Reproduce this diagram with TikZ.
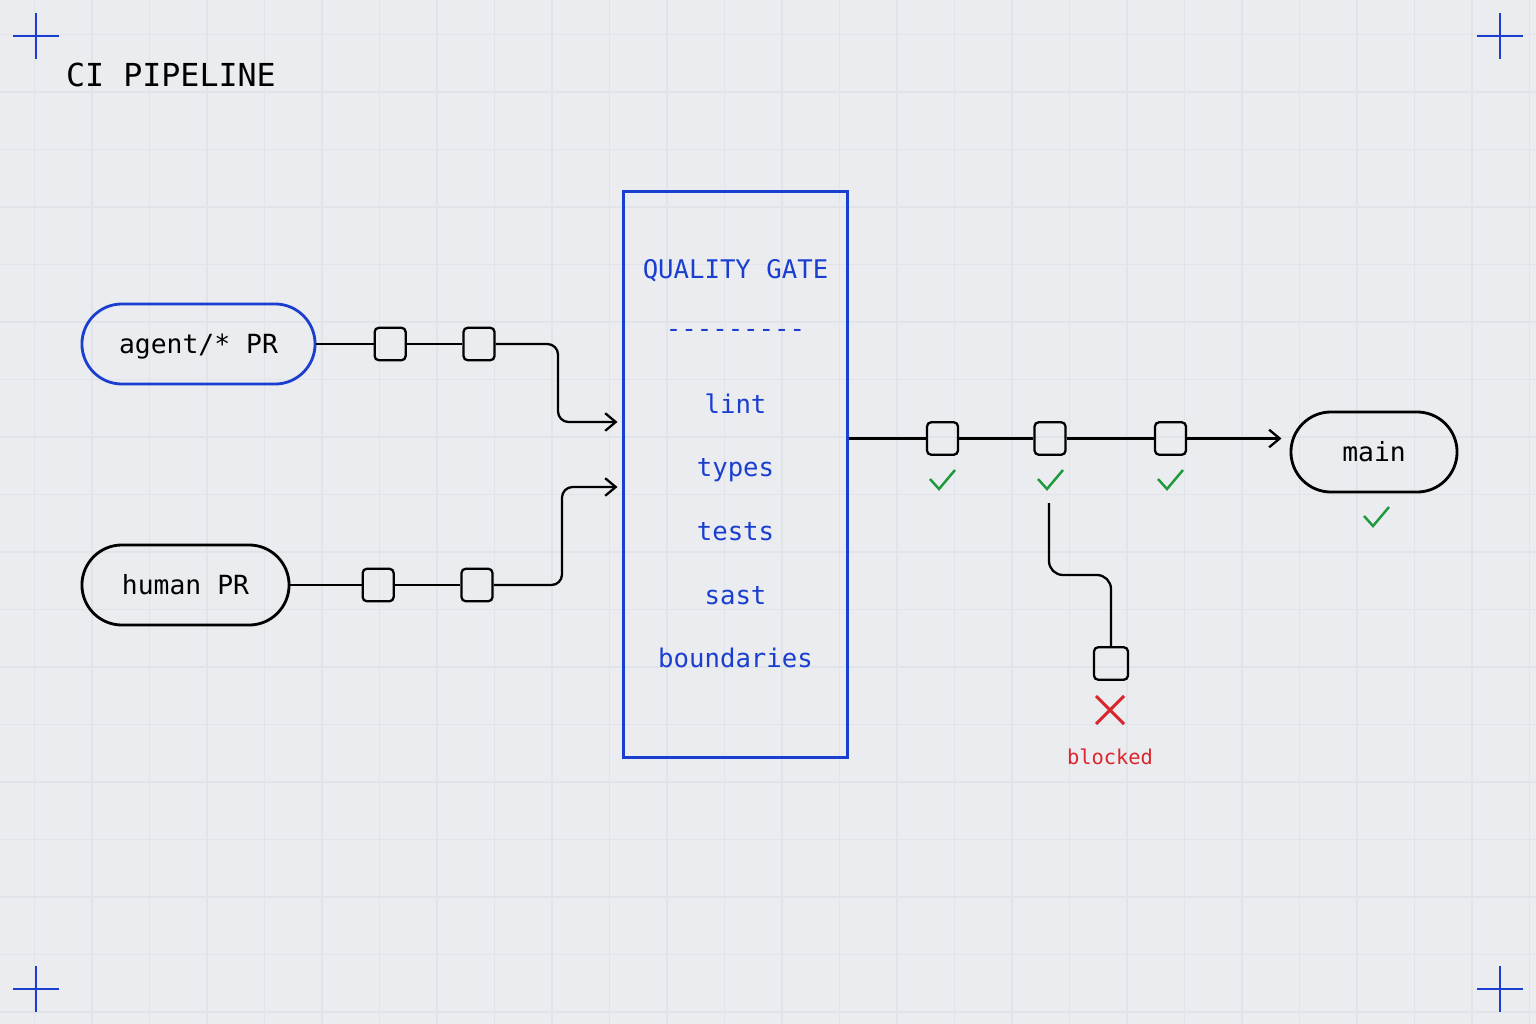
\documentclass[tikz,border=0pt]{standalone}
\usepackage{fontspec}
\setmonofont{DejaVu Sans Mono}
\usetikzlibrary{positioning, arrows.meta}

\definecolor{gateblue}{HTML}{1A3FD0}
\definecolor{passgreen}{HTML}{1E9A3C}
\definecolor{failred}{HTML}{D9252B}
\definecolor{paper}{HTML}{EAECF0}
\definecolor{gridgray}{HTML}{E0E3E8}

\tikzset{
  pass/.pic={\draw[passgreen, line width=0.7pt] (-12,-1) -- (-3,9) -- (13,-10);},
  fail/.pic={\draw[failred, line width=0.85pt] (-14,-14) -- (14,14) (-14,14) -- (14,-14);}
}

\begin{document}
\begin{tikzpicture}[x=0.01cm, y=-0.01cm, >={Straight Barb[length=3pt,width=5pt]}, line width=0.65pt,
    pill/.style={draw, rounded corners=0.4cm, minimum height=0.8cm, line width=0.8pt,
                 font=\ttfamily\fontsize{7.5}{9}\selectfont, text height=1.5ex, text depth=0.2ex},
    job/.style={draw, rounded corners=1.2pt, minimum width=0.31cm, minimum height=0.325cm, inner sep=0pt},
    gatetxt/.style={text=gateblue, font=\ttfamily\fontsize{7.3}{9}\selectfont, inner sep=0pt,
                    text height=1.6ex, text depth=0.3ex},
    wire/.style={rounded corners=3pt},
    gridline/.style={gridgray, line width=0.35pt},
    cornermark/.style={gateblue, line width=0.8pt}]

    % page and grid
    \fill[paper] (0,0) rectangle (1536,1024);
    \useasboundingbox (0,0) rectangle (1536,1024);
    \foreach \g in {0,...,26} \draw[gridline] (34.5+57.5*\g,0) -- (34.5+57.5*\g,1024);
    \foreach \g in {0,...,17} \draw[gridline] (0,34.5+57.5*\g) -- (1536,34.5+57.5*\g);
    \foreach \cx/\cy in {36/36, 1500/36, 36/989, 1500/989}
        \draw[cornermark] (\cx-23,\cy) -- (\cx+23,\cy) (\cx,\cy-23) -- (\cx,\cy+23);

    \node[anchor=west, inner sep=0pt, font=\ttfamily\fontsize{9}{11}\selectfont] (title) at (65,75) {CI PIPELINE};

    % sources
    \node[pill, draw=gateblue, minimum width=2.33cm] (agent) at (198.5,344) {agent/* PR};
    \node[job] (a1) [right=0.57cm of agent] {};
    \node[job] (a2) [right=0.555cm of a1] {};

    \node[pill, minimum width=2.07cm] (human) at (185.5,585) {human PR};
    \node[job] (h1) [right=0.71cm of human] {};
    \node[job] (h2) [right=0.655cm of h1] {};

    % gate
    \node[draw=gateblue, line width=0.85pt, minimum width=2.23cm, minimum height=5.65cm] (gate) at (735.5,474.5) {};
    \node[gatetxt] (qg) at (735.5,269) {QUALITY GATE};
    \node[gatetxt, text height=0.5ex, text depth=0pt] (rule) at (735.5,334) {{-}{-}{-}{-}{-}{-}{-}{-}{-}};
    \foreach \y/\t in {404/lint, 467/types, 531/tests, 595/sast, 658/boundaries}
        \node[gatetxt] (chk-\t) at (735.5,\y) {\t};

    % outputs
    \node[job] (o1) at (942.5,438.5) {};
    \node[job] (o2) at (1050,438.5) {};
    \node[job] (o3) at (1170.5,438.5) {};
    \node[pill, minimum width=1.66cm] (main) at (1374,452) {main};
    \node[job, minimum width=0.34cm] (b1) at (1111,663.5) {};
    \coordinate (fork) at (1049,503);

    \draw (agent) -- (a1) -- (a2);
    \draw[->, wire, shorten >=1.4pt] (a2) -| (558,422) -- (gate.west |- 0,422);
    \draw (human) -- (h1) -- (h2);
    \draw[->, wire, shorten >=1.4pt] (h2) -| (562,487) -- (gate.west |- 0,487);

    \draw (gate.east |- 0,438.5) -- (o1) -- (o2) -- (o3);
    \draw[->, shorten >=2.3pt] (o3) -- (main.west |- 0,438.5);
    \draw[wire, rounded corners=4pt] (fork) |- (b1.north |- 0,575) -- (b1);

    \pic at (942,480) {pass};
    \pic at (1050,480) {pass};
    \pic at (1170,480) {pass};
    \pic at (1376,517) {pass};
    \pic at (1110,710) {fail};
    \node[text=failred, font=\ttfamily\fontsize{5.8}{7}\selectfont] (blocked) at (1110,757) {blocked};
\end{tikzpicture}
\end{document}
